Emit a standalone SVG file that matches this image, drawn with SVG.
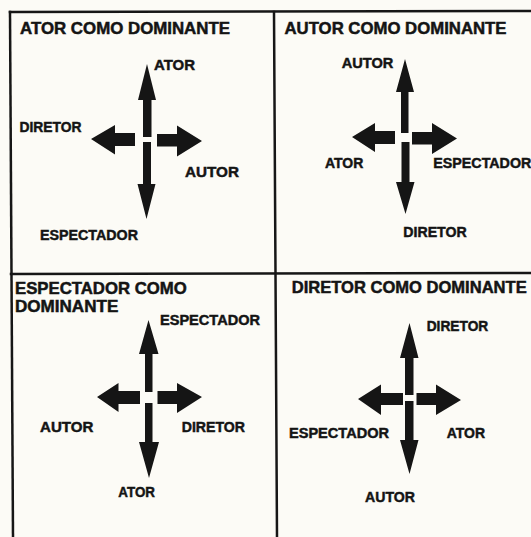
<svg xmlns="http://www.w3.org/2000/svg" width="531" height="537" viewBox="0 0 531 537">
  <style>
    .bg { fill: #fcfbf6; }
    .rule { stroke: #161616; stroke-width: 2.5; fill: none; stroke-linecap: square; }
    .arrow { fill: #151515; }
    .title { font-family: "Liberation Sans", Arial, sans-serif; font-weight: bold; font-size: 16.5px; fill: #141414; stroke: #141414; stroke-width: 0.5; }
    .label { font-family: "Liberation Sans", Arial, sans-serif; font-weight: bold; font-size: 14px; fill: #141414; stroke: #141414; stroke-width: 0.45; }
  </style>

  <rect class="bg" x="0" y="0" width="531" height="537"/>

  <!-- panel grid -->
  <g id="grid">
    <line class="rule" x1="10" y1="12" x2="531" y2="11"/>
    <line class="rule" x1="10" y1="12" x2="13" y2="537"/>
    <line class="rule" x1="274" y1="12" x2="277" y2="537"/>
    <line class="rule" x1="11" y1="274" x2="531" y2="273"/>
  </g>

  <!-- panel: actor dominant -->
  <g id="ator-dominante">
    <text class="title" x="20" y="33.5" textLength="210" lengthAdjust="spacingAndGlyphs">ATOR COMO DOMINANTE</text>
    <text class="label" x="154" y="70" textLength="41" lengthAdjust="spacingAndGlyphs">ATOR</text>
    <text class="label" x="19.5" y="131.5" textLength="62" lengthAdjust="spacingAndGlyphs">DIRETOR</text>
    <text class="label" x="185" y="177" textLength="54" lengthAdjust="spacingAndGlyphs">AUTOR</text>
    <text class="label" x="40" y="240" textLength="98" lengthAdjust="spacingAndGlyphs">ESPECTADOR</text>
  </g>

  <!-- panel: author dominant -->
  <g id="autor-dominante">
    <text class="title" x="284.5" y="33.5" textLength="222" lengthAdjust="spacingAndGlyphs">AUTOR COMO DOMINANTE</text>
    <text class="label" x="341.7" y="68.3" textLength="51.6" lengthAdjust="spacingAndGlyphs">AUTOR</text>
    <text class="label" x="325" y="168" textLength="38.3" lengthAdjust="spacingAndGlyphs">ATOR</text>
    <text class="label" x="433.3" y="168" textLength="98" lengthAdjust="spacingAndGlyphs">ESPECTADOR</text>
    <text class="label" x="403.3" y="237.3" textLength="63.4" lengthAdjust="spacingAndGlyphs">DIRETOR</text>
  </g>

  <!-- panel: spectator dominant -->
  <g id="espectador-dominante">
    <text class="title" x="15" y="294" textLength="171.7" lengthAdjust="spacingAndGlyphs">ESPECTADOR COMO</text>
    <text class="title" x="15" y="311.5" textLength="103.3" lengthAdjust="spacingAndGlyphs">DOMINANTE</text>
    <text class="label" x="160" y="325" textLength="100" lengthAdjust="spacingAndGlyphs">ESPECTADOR</text>
    <text class="label" x="40" y="431.7" textLength="53.3" lengthAdjust="spacingAndGlyphs">AUTOR</text>
    <text class="label" x="181.7" y="431.7" textLength="63.3" lengthAdjust="spacingAndGlyphs">DIRETOR</text>
    <text class="label" x="118.3" y="496.7" textLength="36.7" lengthAdjust="spacingAndGlyphs">ATOR</text>
  </g>

  <!-- panel: director dominant -->
  <g id="diretor-dominante">
    <text class="title" x="291.7" y="293.3" textLength="235" lengthAdjust="spacingAndGlyphs">DIRETOR COMO DOMINANTE</text>
    <text class="label" x="426.7" y="331" textLength="61.6" lengthAdjust="spacingAndGlyphs">DIRETOR</text>
    <text class="label" x="289" y="438.3" textLength="100" lengthAdjust="spacingAndGlyphs">ESPECTADOR</text>
    <text class="label" x="446.7" y="438.3" textLength="38.3" lengthAdjust="spacingAndGlyphs">ATOR</text>
    <text class="label" x="365" y="501.7" textLength="50" lengthAdjust="spacingAndGlyphs">AUTOR</text>
  </g>

  <!-- four-way arrow crosses, one per panel -->
  <g id="connectors">
    <g id="arrows-ator">
      <polygon class="arrow" points="147,64 156,100 151.5,100 151.5,137 143,137 143,100 138,100"/>
      <polygon class="arrow" points="143,142 151,142 151,184 155.5,184 146.5,219 137.5,184 143,184"/>
      <polygon class="arrow" points="91,139 115,125 115,133 135,133 135,146 115,146 115,154.5"/>
      <polygon class="arrow" points="157,134 177,134 177,125.5 202,141 177,156.5 177,146.5 157,146.5"/>
    </g>
    <g id="arrows-autor">
      <polygon class="arrow" points="405,59 414,92 408.5,92 408.5,133 401,133 401,92 396,92"/>
      <polygon class="arrow" points="401.5,142 409.5,142 409.5,182 414.5,182 405.5,214 396,182 401.5,182"/>
      <polygon class="arrow" points="352,137 375,123 375,131 395,131 395,144 375,144 375,152"/>
      <polygon class="arrow" points="412,132 432,132 432,123 457,138.5 432,154 432,144.5 412,144.5"/>
    </g>
    <g id="arrows-espectador">
      <polygon class="arrow" points="148.5,320 158.5,354 152.5,354 152.5,392 145,392 145,354 139,354"/>
      <polygon class="arrow" points="145,403 152.5,403 152.5,442 159,442 149,478 139,442 145,442"/>
      <polygon class="arrow" points="97,397 118.5,383 118.5,391 140,391 140,404 118.5,404 118.5,412"/>
      <polygon class="arrow" points="157.5,391 177,391 177,383 202,397 177,413 177,404 157.5,404"/>
    </g>
    <g id="arrows-diretor">
      <polygon class="arrow" points="409.5,323 418.5,358 413.5,358 413.5,395 405,395 405,358 400,358"/>
      <polygon class="arrow" points="405,401 413.5,401 413.5,440 418.5,440 409.5,474 400,440 405,440"/>
      <polygon class="arrow" points="358,399 381,384.5 381,393 403,393 403,405 381,405 381,415"/>
      <polygon class="arrow" points="416.5,393 436,393 436,384.5 461,400 436,415 436,405 416.5,405"/>
    </g>
  </g>
</svg>
